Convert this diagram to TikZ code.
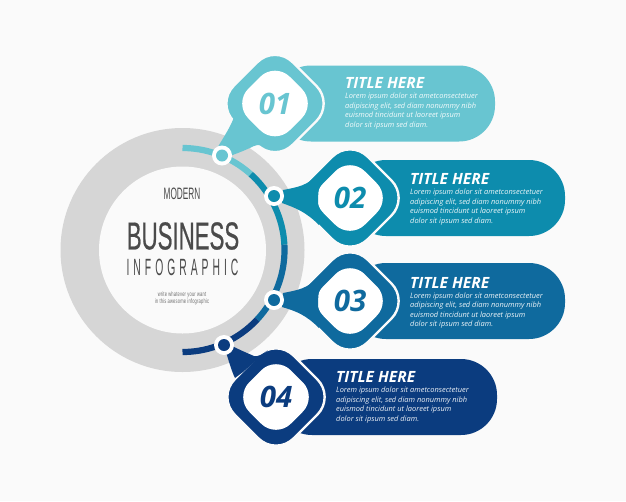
\documentclass[tikz,border=0pt]{standalone}
\usepackage{fontspec}
\setmainfont{Open Sans}
\newfontfamily\condbig[FakeStretch=0.57,FakeBold=0.5]{Liberation Sans}
\newfontfamily\condmod[FakeStretch=0.5]{Liberation Sans}
\newfontfamily\condinf[FakeStretch=0.44,LetterSpace=17]{Liberation Sans}
\newfontfamily\condsm[FakeStretch=0.62,LetterSpace=3]{Liberation Sans}
\definecolor{bgc}{HTML}{FAFAFA}
\definecolor{ringc}{HTML}{D6D6D6}
\definecolor{ca}{HTML}{68C5D1}
\definecolor{cb}{HTML}{0D8CAD}
\definecolor{cc}{HTML}{0F6A9E}
\definecolor{cd}{HTML}{0B3C7F}
\definecolor{txt}{HTML}{4A4A4A}
\newcommand{\bodytext}{Lorem ipsum dolor sit ametconsectetuer\\adipiscing elit, sed diam nonummy nibh\\euismod tincidunt ut laoreet ipsum\\dolor sit ipsum sed diam.}
% #1 name, #2 x, #3 y, #4 colour, #5 number, #6 bar right end
\newcommand{\infostep}[6]{%
  \fill[#4,rounded corners=36pt] (#2,#3-38) -- (#6,#3-38) -- (#6,#3+38) -- (#2,#3+38) -- cycle;
  \path[fill=#4,draw=bgc,line width=2.4pt,rounded corners=25pt] (#2,#3-59) -- (#2+59,#3) -- (#2,#3+59) -- (#2-59,#3) -- cycle;
  \fill[white,rounded corners=21pt] (#2,#3-41.5) -- (#2+41.5,#3) -- (#2,#3+41.5) -- (#2-41.5,#3) -- cycle;
  \node[numtext,text=#4] (num#1) at (#2,#3) {#5};
}
\tikzset{
  numtext/.style={font=\fontsize{29.5}{29.5}\selectfont\bfseries\itshape,inner sep=0pt},
  titletext/.style={font=\fontsize{15.5}{15.5}\selectfont\bfseries\itshape,text=white,anchor=west,inner sep=0pt},
  bodynode/.style={font=\fontsize{7.45}{9.5}\selectfont\itshape,text=white,text opacity=0.92,anchor=north west,inner sep=0pt,align=left},
  dotring/.style={circle,fill=white,minimum size=20pt,inner sep=0pt},
  dotcore/.style={circle,minimum size=12pt,inner sep=0pt},
  arcseg/.style={line width=6.2pt,line cap=butt,samples=40}
}
\begin{document}
\begin{tikzpicture}[x=1pt,y=-1pt]
\useasboundingbox (0,0) rectangle (626,501);
\fill[bgc] (0,0) rectangle (626,501);
% ring
\fill[ringc] (182.5,250) circle[radius=122pt];
\fill[bgc] (182.5,250) circle[radius=83.5pt];
% arc
\draw[arcseg,ca] plot[domain=90:48] ({182.5+102*cos(\x)},{250-102*sin(\x)});
\draw[arcseg,cb] plot[domain=48:3] ({182.5+102*cos(\x)},{250-102*sin(\x)});
\draw[arcseg,cc] plot[domain=3:-43] ({182.5+102*cos(\x)},{250-102*sin(\x)});
\draw[arcseg,cd] plot[domain=-43:-90] ({182.5+102*cos(\x)},{250-102*sin(\x)});
% steps
\infostep{a}{275}{103.5}{ca}{01}{495}
\infostep{b}{350}{198}{cb}{02}{565}
\infostep{c}{350}{301}{cc}{03}{565}
\infostep{d}{276}{397}{cd}{04}{497}
% tails
\fill[ca] (216,150) .. controls (225,135) and (231,126) .. (234,117) -- (243,122) -- (270,150) .. controls (264,145) and (258,144) .. (254,146) .. controls (246,150) and (238,153) .. (230,156) -- cycle;
\fill[cb] (283,190) .. controls (298,187) and (308,186) .. (320,172) -- (318,198) -- (319,225) .. controls (306,212) and (296,208) .. (282,203) -- cycle;
\fill[cc] (283,293) .. controls (298,290) and (308,289) .. (320,275) -- (318,301) -- (319,328) .. controls (306,315) and (296,311) .. (282,307) -- cycle;
\fill[cd] (226,352) .. controls (229,362) and (232,372) .. (235,378) -- (243,372) -- (268,350) .. controls (263,354) and (258,357) .. (254,356) .. controls (247,353) and (240,350) .. (232,346) -- cycle;
% dots
\node[dotring] (ra) at (222,155.5) {}; \node[dotcore,fill=ca] (da) at (ra) {};
\node[dotring] (rb) at (274,196) {}; \node[dotcore,fill=cb] (db) at (rb) {};
\node[dotring] (rc) at (274,300) {}; \node[dotcore,fill=cc] (dc) at (rc) {};
\node[dotring] (rd) at (224,345) {}; \node[dotcore,fill=cd] (dd) at (rd) {};
% texts on bars
\node[titletext] (ta) at (345,83) {TITLE HERE};
\node[bodynode] (ba) at (345,93) {\bodytext};
\node[titletext] (tb) at (410,179) {TITLE HERE};
\node[bodynode] (bb) at (410,189) {\bodytext};
\node[titletext] (tc) at (410,283) {TITLE HERE};
\node[bodynode] (bc) at (410,292.5) {\bodytext};
\node[titletext] (td) at (336,377) {TITLE HERE};
\node[bodynode] (bd) at (336,387) {\bodytext};
% centre
\node[text=txt,inner sep=0pt,font=\fontsize{16.5}{16.5}\selectfont\condmod] (modern) at (182,193.5) {MODERN};
\node[text=txt,inner sep=0pt,font=\fontsize{39}{39}\selectfont\condbig] (business) at (183,236) {BUSINESS};
\node[text=txt,inner sep=0pt,font=\fontsize{23.5}{23.5}\selectfont\condinf] (info) at (182.5,267) {INFOGRAPHIC};
\node[text=txt!80,inner sep=0pt,font=\fontsize{6.5}{7.2}\selectfont\condsm,align=center] (small) at (182,298.5) {write whatever your want\\in this awesome infographic};
\end{tikzpicture}
\end{document}
